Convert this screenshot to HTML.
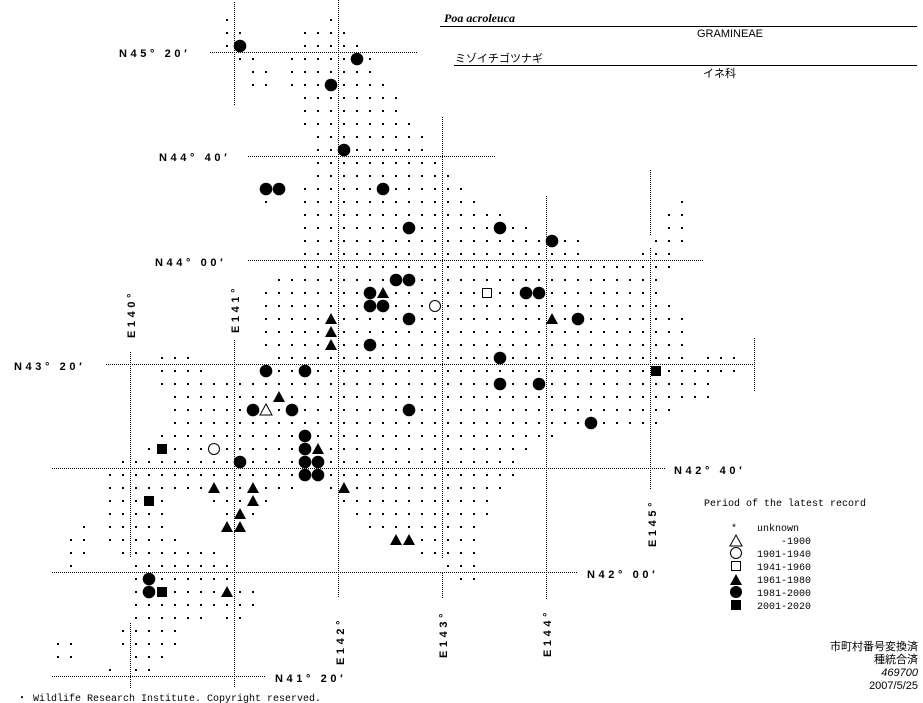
<!DOCTYPE html>
<html><head><meta charset="utf-8">
<style>
html,body{margin:0;padding:0;background:#fff;}
#wrap{position:relative;width:923px;height:703px;overflow:hidden;background:#fff;}
svg{position:absolute;left:0;top:0;}
.lat{font-family:"Liberation Sans",sans-serif;font-weight:bold;font-size:11px;letter-spacing:3.6px;}
.mono{font-family:"Liberation Mono","Noto Sans CJK JP",monospace;font-size:10px;}
.jp{font-family:"Liberation Sans","Noto Sans CJK JP",sans-serif;font-size:11px;}
</style></head><body>
<div id="wrap">
<svg id="s" width="923" height="703" viewBox="0 0 923 703" xmlns="http://www.w3.org/2000/svg">
<g stroke="#000" stroke-width="1" stroke-dasharray="1,1" fill="none">
<line x1="210" y1="52.5" x2="417" y2="52.5"/>
<line x1="248" y1="156.5" x2="495" y2="156.5"/>
<line x1="248" y1="260.5" x2="703" y2="260.5"/>
<line x1="106" y1="364.5" x2="755" y2="364.5"/>
<line x1="52" y1="468.5" x2="665" y2="468.5"/>
<line x1="52" y1="572.5" x2="577" y2="572.5"/>
<line x1="52" y1="676.5" x2="265" y2="676.5"/>
<line x1="234.5" y1="2" x2="234.5" y2="105"/>
<line x1="234.5" y1="340" x2="234.5" y2="688"/>
<line x1="338.5" y1="0" x2="338.5" y2="598"/>
<line x1="130.5" y1="352" x2="130.5" y2="558"/>
<line x1="130.5" y1="623" x2="130.5" y2="688"/>
<line x1="442.5" y1="117" x2="442.5" y2="558"/>
<line x1="442.5" y1="573" x2="442.5" y2="598"/>
<line x1="546.5" y1="196" x2="546.5" y2="600"/>
<line x1="650.5" y1="170" x2="650.5" y2="235"/>
<line x1="650.5" y1="248" x2="650.5" y2="490"/>
<line x1="754.5" y1="338" x2="754.5" y2="391"/>
</g>
<g id="dots"></g>
<g class="lat" fill="#000">
<text x="119" y="57">N45° 20′</text>
<text x="159" y="161">N44° 40′</text>
<text x="155" y="266">N44° 00′</text>
<text x="14" y="370">N43° 20′</text>
<text x="674" y="474">N42° 40′</text>
<text x="587" y="578">N42° 00′</text>
<text x="275" y="682">N41° 20′</text>
<text transform="translate(135,338) rotate(-90)">E140°</text>
<text transform="translate(239,333) rotate(-90)">E141°</text>
<text transform="translate(344,665) rotate(-90)">E142°</text>
<text transform="translate(447,658) rotate(-90)">E143°</text>
<text transform="translate(551,657) rotate(-90)">E144°</text>
<text transform="translate(656,547) rotate(-90)">E145°</text>
</g>
<text x="444" y="22" font-family="Liberation Serif,serif" font-weight="bold" font-style="italic" font-size="12">Poa acroleuca</text>
<line x1="440" y1="26.5" x2="917" y2="26.5" stroke="#000"/>
<text x="697" y="37" class="jp">GRAMINEAE</text>
<text x="455" y="62" class="jp" font-size="13">ミゾイチゴツナギ</text>
<line x1="454" y1="65.5" x2="917" y2="65.5" stroke="#000"/>
<text x="703" y="77" class="jp">イネ科</text>
<text x="704" y="506" class="mono">Period of the latest record</text>
<g class="mono">
<text x="731" y="531">*</text>
<text x="757" y="531">unknown</text>
<text x="757" y="544" xml:space="preserve">    -1900</text>
<text x="757" y="557">1901-1940</text>
<text x="757" y="570">1941-1960</text>
<text x="757" y="583">1961-1980</text>
<text x="757" y="596">1981-2000</text>
<text x="757" y="609">2001-2020</text>
</g>
<g fill="#000" stroke="#000">
<polygon points="736,535 742,546 730,546" fill="none"/>
<circle cx="736" cy="553" r="5.5" fill="none"/>
<rect x="731.5" y="561.5" width="9" height="9" fill="none"/>
<polygon points="736,574 742,585 730,585" stroke="none"/>
<circle cx="736" cy="592" r="6" stroke="none"/>
<rect x="731" y="600" width="10" height="10" stroke="none"/>
</g>
<g class="jp" text-anchor="end" font-size="12">
<text x="918" y="650">市町村番号変換済</text>
<text x="918" y="663">種統合済</text>
<text x="918" y="676" font-style="italic">469700</text>
<text x="918" y="689">2007/5/25</text>
</g>
<text x="17" y="701" class="mono">・ Wildlife Research Institute. Copyright reserved.</text>
</svg>
</div>
<script>
var R={
0:[[13,13],[21,21]],1:[[13,14],[19,22]],2:[[13,13],[19,23]],3:[[14,15],[18,24]],4:[[15,16],[18,24]],
5:[[15,16],[18,25]],6:[[19,26]],7:[[19,26]],8:[[19,27]],9:[[20,28]],10:[[20,28]],11:[[20,29]],12:[[20,30]],
13:[[19,31]],14:[[16,16],[19,32],[48,48]],15:[[19,34],[47,48]],16:[[19,36],[47,48]],17:[[19,40],[46,48]],
18:[[19,40],[45,47]],19:[[19,47]],20:[[17,46]],21:[[16,46]],22:[[16,47]],23:[[16,48]],24:[[16,48]],25:[[16,48]],
26:[[8,10],[17,48],[50,52]],27:[[8,11],[17,52]],28:[[8,50]],29:[[9,50]],30:[[9,47]],31:[[9,46]],32:[[8,38]],
33:[[7,36]],34:[[5,35]],35:[[4,35]],36:[[4,18],[21,34]],37:[[4,8],[12,16],[22,33]],38:[[4,8],[13,15],[23,33]],
39:[[2,2],[4,8],[13,14],[24,32]],40:[[1,2],[4,9],[26,32]],41:[[1,2],[5,12],[28,32]],42:[[1,1],[6,13],[30,32]],
43:[[6,13],[31,32]],44:[[6,15]],45:[[6,15]],46:[[6,11],[13,14]],47:[[5,9]],48:[[0,1],[5,9]],49:[[0,1],[6,8]],50:[[4,4],[6,7]]};
var S=[[14,2,'C'],[23,3,'C'],[21,5,'C'],[22,10,'C'],[16,13,'C'],[17,13,'C'],[25,13,'C'],[27,16,'C'],[34,16,'C'],
[38,17,'C'],[26,20,'C'],[27,20,'C'],[24,21,'C'],[25,21,'T'],[33,21,'Q'],[36,21,'C'],[37,21,'C'],[24,22,'C'],[25,22,'C'],
[29,22,'O'],[21,23,'T'],[27,23,'C'],[38,23,'T'],[40,23,'C'],[21,24,'T'],[21,25,'T'],[24,25,'C'],[34,26,'C'],
[16,27,'C'],[19,27,'C'],[46,27,'S'],[34,28,'C'],[37,28,'C'],[17,29,'T'],[15,30,'C'],[16,30,'t'],[18,30,'C'],[27,30,'C'],
[41,31,'C'],[19,32,'C'],[8,33,'S'],[12,33,'O'],[19,33,'C'],[20,33,'T'],[14,34,'C'],[19,34,'C'],[20,34,'C'],
[19,35,'C'],[20,35,'C'],[12,36,'T'],[15,36,'T'],[22,36,'T'],[7,37,'S'],[15,37,'T'],[14,38,'T'],[13,39,'T'],[14,39,'T'],
[26,40,'T'],[27,40,'T'],[7,43,'C'],[7,44,'C'],[8,44,'S'],[13,44,'T']];
var g=document.getElementById('dots');
var occ={};S.forEach(function(s){occ[s[0]+','+s[1]]=1;});
function X(c){return 58+13*c;}function Y(r){return 20+13*r;}
var h='';
for(var r in R){R[r].forEach(function(a){for(var c=a[0];c<=a[1];c++){if(occ[c+','+r])continue;
h+='<rect x="'+(X(c)-1)+'" y="'+(Y(+r)-1)+'" width="2" height="2"/>';}});}
S.forEach(function(s){var x=X(s[0]),y=Y(s[1]);
if(s[2]=='C')h+='<circle cx="'+x+'" cy="'+y+'" r="6.3"/>';
else if(s[2]=='O')h+='<circle cx="'+x+'" cy="'+y+'" r="5.5" fill="#fff" stroke="#000"/>';
else if(s[2]=='T')h+='<polygon points="'+x+','+(y-6)+' '+(x+6)+','+(y+5)+' '+(x-6)+','+(y+5)+'"/>';
else if(s[2]=='t')h+='<polygon points="'+x+','+(y-6)+' '+(x+6)+','+(y+5)+' '+(x-6)+','+(y+5)+'" fill="#fff" stroke="#000"/>';
else if(s[2]=='S')h+='<rect x="'+(x-5)+'" y="'+(y-5)+'" width="10" height="10"/>';
else if(s[2]=='Q')h+='<rect x="'+(x-4.5)+'" y="'+(y-4.5)+'" width="9" height="9" fill="#fff" stroke="#000"/>';
});
g.innerHTML=h;
</script>
</body></html>
